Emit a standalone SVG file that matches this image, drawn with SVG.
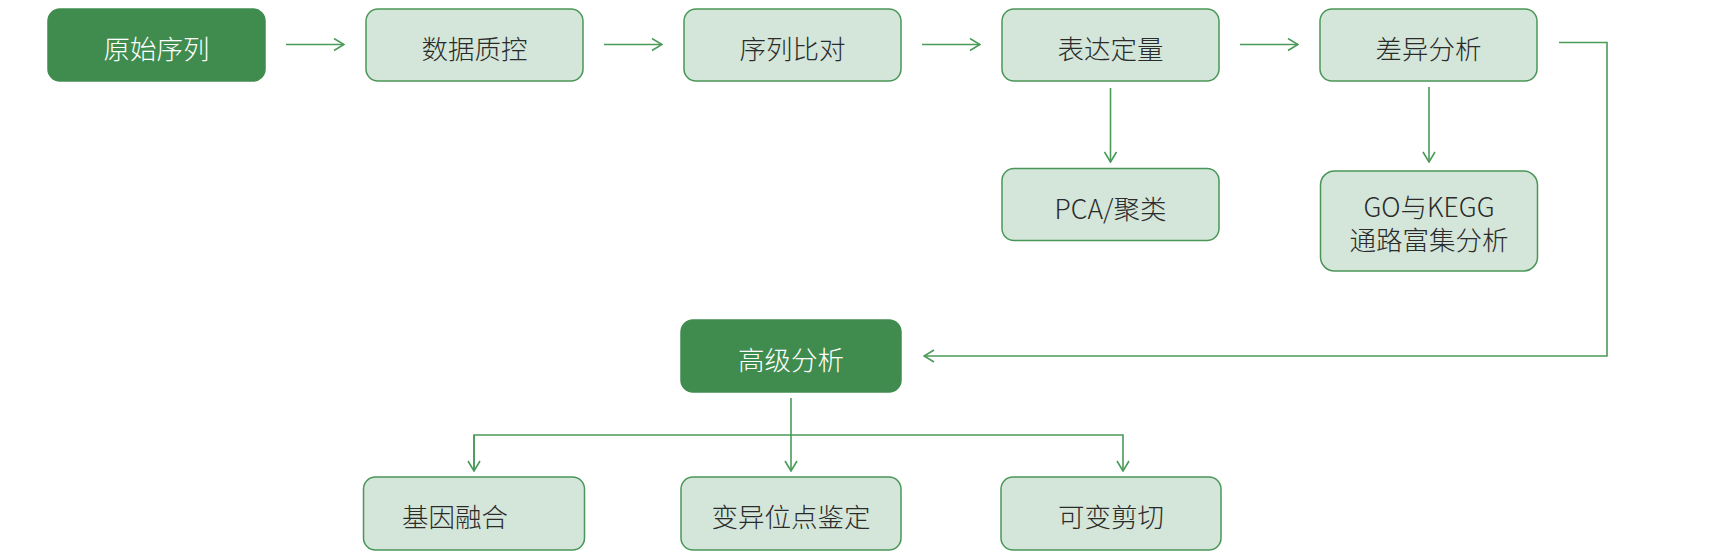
<svg xmlns="http://www.w3.org/2000/svg" width="1732" height="560" viewBox="0 0 1732 560">
<style>
.dark rect{fill:#408c4f;stroke:#408c4f;stroke-width:1.5}
.light rect{fill:#d4e6d9;stroke:#4a9658;stroke-width:1.5}
text{font-family:"Noto Sans CJK SC","Noto Sans",sans-serif;font-size:26.5px;font-weight:300;text-anchor:middle}
.dark text{fill:#ffffff}
.light text{fill:#2b2b2b}
.conn path{fill:none;stroke:#4a9a58;stroke-width:1.6}
</style>
<defs>
<marker id="arr" viewBox="0 0 12 14" refX="11" refY="7" markerWidth="12" markerHeight="14" markerUnits="userSpaceOnUse" orient="auto">
<path d="M1,1 L11,7 L1,13" fill="none" stroke="#4a9a58" stroke-width="1.6"/>
</marker>
</defs>
<g class="conn">
<path d="M286,44.5 H344" marker-end="url(#arr)"/>
<path d="M604,44.5 H662" marker-end="url(#arr)"/>
<path d="M922,44.5 H980" marker-end="url(#arr)"/>
<path d="M1240,44.5 H1298" marker-end="url(#arr)"/>
<path d="M1110.5,88 V162" marker-end="url(#arr)"/>
<path d="M1429,87 V162" marker-end="url(#arr)"/>
<path d="M1559,42.5 H1607 V356 H924" marker-end="url(#arr)"/>
<path d="M791,398 V471" marker-end="url(#arr)"/>
<path d="M474,471 V435 H1123 V471" marker-end="url(#arr)"/>
<path d="M474,435 V471" marker-end="url(#arr)"/>
</g>
<g id="n1" class="dark"><rect x="48" y="9" width="217" height="72" rx="12"/><text x="156.5" y="58.5">原始序列</text></g>
<g id="n2" class="light"><rect x="366" y="9" width="217" height="72" rx="12"/><text x="474.5" y="58.5">数据质控</text></g>
<g id="n3" class="light"><rect x="684" y="9" width="217" height="72" rx="12"/><text x="792.5" y="58.5">序列比对</text></g>
<g id="n4" class="light"><rect x="1002" y="9" width="217" height="72" rx="12"/><text x="1110.5" y="58.5">表达定量</text></g>
<g id="n5" class="light"><rect x="1320" y="9" width="217" height="72" rx="12"/><text x="1428.5" y="58.5">差异分析</text></g>
<g id="n6" class="light"><rect x="1002" y="168.5" width="217" height="72" rx="12"/><text x="1110.5" y="218.5">PCA/聚类</text></g>
<g id="n7" class="light"><rect x="1320.5" y="171" width="217" height="100" rx="14"/><text x="1429" y="216.5">GO与KEGG</text><text x="1429" y="249.5">通路富集分析</text></g>
<g id="n8" class="dark"><rect x="681" y="320" width="220" height="72" rx="12"/><text x="791" y="369.5">高级分析</text></g>
<g id="n9" class="light"><rect x="363.5" y="477" width="221" height="73" rx="12"/><text x="455" y="526.5">基因融合</text></g>
<g id="n10" class="light"><rect x="681" y="477" width="220" height="73" rx="12"/><text x="791" y="526.5">变异位点鉴定</text></g>
<g id="n11" class="light"><rect x="1001" y="477" width="220" height="73" rx="12"/><text x="1111" y="526.5">可变剪切</text></g>
</svg>
